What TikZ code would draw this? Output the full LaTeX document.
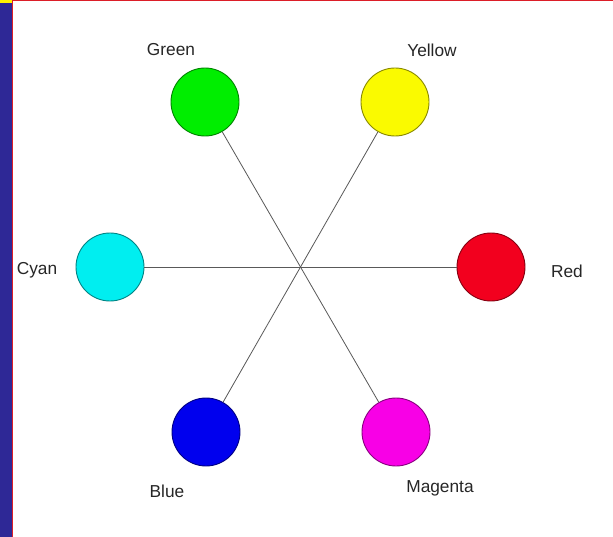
\documentclass[tikz,border=0pt]{standalone}
\usepackage{fontspec}
\setmainfont{Liberation Sans}
\usetikzlibrary{positioning}
\definecolor{barblue}{RGB}{46,40,150}
\definecolor{edgered}{RGB}{220,30,40}
\definecolor{cgreen}{RGB}{0,238,0}
\definecolor{cyellow}{RGB}{250,250,0}
\definecolor{ccyan}{RGB}{0,238,240}
\definecolor{cred}{RGB}{242,0,30}
\definecolor{cblue}{RGB}{0,0,238}
\definecolor{cmagenta}{RGB}{248,0,230}
\tikzset{colorcirc/.style = {circle, draw=#1!55!black, line width=0.9, fill=#1, inner sep = 0, minimum size = 68}}
\tikzset{spoke/.style = {draw=black!65, line width=0.8}}
\tikzset{lbl/.style = {font=\fontsize{17.3}{20}\selectfont, text=black!85}}

\begin{document}
\begin{tikzpicture}[x=1pt, y=-1pt]
    % frame
    \useasboundingbox (0,0) rectangle (613,537);
    \fill[white] (0,0) rectangle (613,537);
    \fill[barblue] (0,0) rectangle (12,537);
    \fill[yellow] (0,0) rectangle (12,3);
    \draw[edgered, line width=1.2] (12.5,537) -- (12.5,0.6) -- (613,0.6);

    % colour circles
    \node [colorcirc=cgreen] (green) at (205,102) {};
    \node [colorcirc=cyellow] (yellow) at (395,102) {};
    \node [colorcirc=ccyan] (cyan) at (110,267) {};
    \node [colorcirc=cred] (red) at (491,267) {};
    \node [colorcirc=cblue] (blue) at (206,432) {};
    \node [colorcirc=cmagenta] (magenta) at (396,432) {};

    % complements
    \draw [spoke] (green) -- (magenta);
    \draw [spoke] (yellow) -- (blue);
    \draw [spoke] (cyan) -- (red);

    \node [lbl] (lgreen) at (171,50) {Green};
    \node [lbl] (lyellow) at (432,50) {Yellow};
    \node [lbl] (lcyan) at (37,270) {Cyan};
    \node [lbl] (lred) at (567,271) {Red};
    \node [lbl] (lblue) at (167,491) {Blue};
    \node [lbl] (lmagenta) at (440,488) {Magenta};
  \end{tikzpicture}
\end{document}
